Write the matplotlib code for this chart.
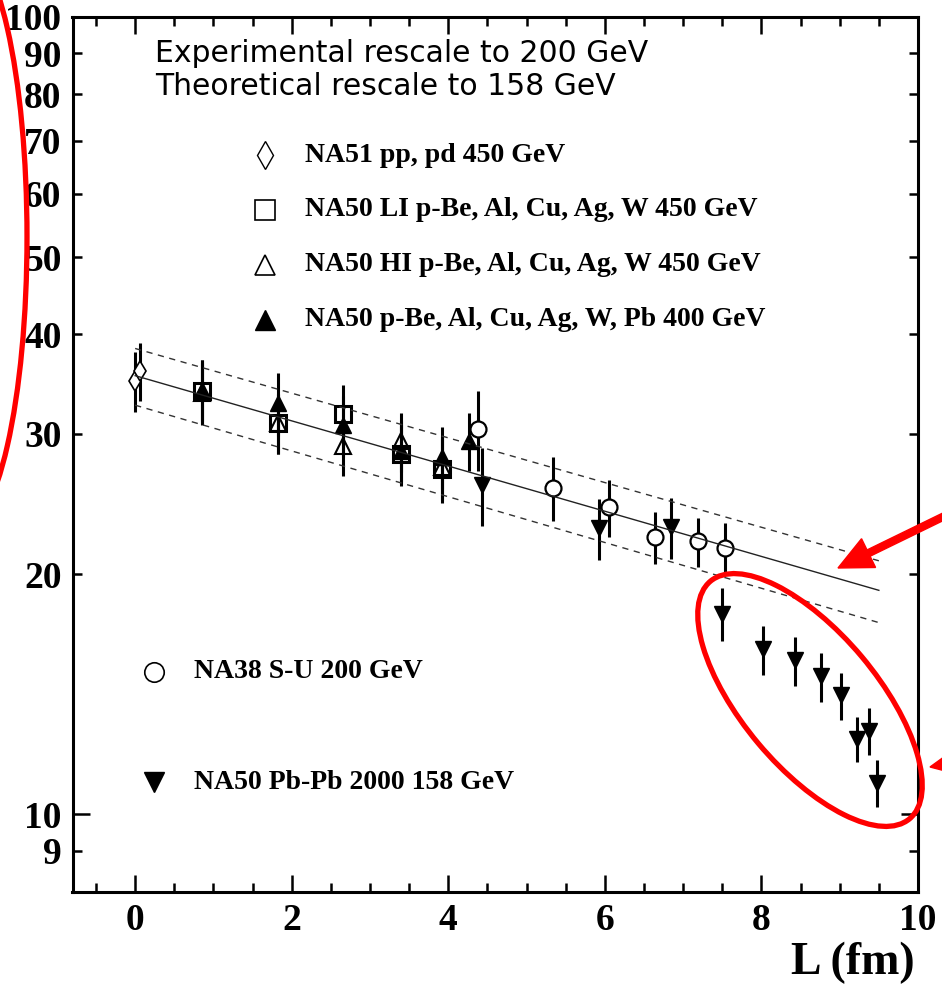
import numpy as np
import matplotlib.pyplot as plt
from matplotlib.ticker import FixedLocator, FixedFormatter, NullFormatter
from matplotlib.patches import Ellipse, FancyArrow

# NA51 pp, pd 450 GeV
na51_L = [0.0, 0.06]
na51_y = [35.0, 36.0]
na51_err = [3.0, 3.0]

# NA50 LI p-A 450 GeV
li_L = [0.85, 1.83, 2.65, 3.40, 3.92]
li_y = [34.0, 31.0, 31.75, 28.3, 27.1]
li_err = [3.1, 2.7, 2.8, 2.5, 2.5]

# NA50 HI p-A 450 GeV
hi_L = [0.85, 1.83, 2.65, 3.40, 3.92]
hi_y = [33.8, 31.0, 28.95, 29.4, 27.3]
hi_err = [3.0, 2.7, 2.4, 2.5, 2.5]

# NA50 p-A 400 GeV
p400_L = [0.85, 1.83, 2.65, 3.40, 3.92, 4.27]
p400_y = [34.1, 32.8, 30.8, 28.6, 28.1, 29.4]
p400_err = [3.0, 3.0, 2.7, 2.5, 2.5, 2.45]

# NA38 S-U 200 GeV
na38_L = [4.375, 5.34, 6.05, 6.645, 7.19, 7.53]
na38_y = [30.45, 25.7, 24.3, 22.27, 22.0, 21.6]
na38_err = [3.5, 2.35, 2.0, 1.65, 1.55, 1.6]

# NA50 Pb-Pb 2000 158 GeV
pbpb_L = [4.43, 5.93, 6.84, 7.50, 8.02, 8.43, 8.76, 9.02, 9.22, 9.38, 9.48]
pbpb_y = [25.9, 22.86, 22.9, 17.86, 16.1, 15.6, 14.9, 14.1, 12.43, 12.73, 10.96]
pbpb_err = [2.9, 2.0, 2.0, 1.35, 1.15, 1.1, 1.05, 0.95, 0.8, 0.87, 0.75]

# nuclear absorption curve and its error band (end points)
fit_L = [0.0, 9.5]
fit_y = [35.5, 19.1]
fit_hi = [38.4, 20.8]
fit_lo = [32.6, 17.4]

y_major = [10, 100]
y_minor = [9, 20, 30, 40, 50, 60, 70, 80, 90]
x_major = [0, 2, 4, 6, 8, 10]

serif = 'Liberation Serif'

fig = plt.figure(figsize=(9.42, 9.85), dpi=100)
ax = fig.add_axes([72.5 / 942, 93.3 / 985, 845.5 / 942, 874.7 / 985])

ax.set_yscale('log')
ax.set_xlim(-0.8, 10)
ax.set_ylim(8, 100)

# error bars first, markers on top
for L, y, e in [(na51_L, na51_y, na51_err), (li_L, li_y, li_err),
                (hi_L, hi_y, hi_err), (p400_L, p400_y, p400_err),
                (na38_L, na38_y, na38_err), (pbpb_L, pbpb_y, pbpb_err)]:
    ax.errorbar(L, y, yerr=e, fmt='none', ecolor='k', elinewidth=2.2,
                capsize=0, zorder=3)

ax.plot(na51_L, na51_y, 'd', ms=10, mfc='white', mec='k', mew=1.2, zorder=4)
ax.plot(li_L, li_y, 's', ms=11.5, mfc='none', mec='k', mew=2.2, zorder=4)
ax.plot(hi_L, hi_y, '^', ms=11, mfc='none', mec='k', mew=1.5, zorder=4)
ax.plot(p400_L, p400_y, '^', ms=11, mfc='k', mec='k', zorder=4)
ax.plot(na38_L, na38_y, 'o', ms=11.5, mfc='white', mec='k', mew=1.6, zorder=4)
ax.plot(pbpb_L, pbpb_y, 'v', ms=11, mfc='k', mec='k', zorder=4)

ax.plot(fit_L, fit_y, '-', color='#222222', lw=1.0, zorder=5)
ax.plot(fit_L, fit_hi, color='#333333', lw=1.0, dashes=(4.5, 4), zorder=5)
ax.plot(fit_L, fit_lo, color='#333333', lw=1.0, dashes=(4.5, 4), zorder=5)

# axes styling
for s in ax.spines.values():
    s.set_linewidth(2.2)
ax.yaxis.set_major_locator(FixedLocator(y_major))
ax.yaxis.set_minor_locator(FixedLocator(y_minor))
ax.yaxis.set_major_formatter(FixedFormatter([str(v) for v in y_major]))
ax.yaxis.set_minor_formatter(FixedFormatter([str(v) for v in y_minor]))
ax.xaxis.set_major_locator(FixedLocator(x_major))
ax.xaxis.set_minor_locator(FixedLocator(np.arange(-0.5, 10, 0.5)))
ax.xaxis.set_minor_formatter(NullFormatter())
ax.tick_params(which='both', direction='in', top=True, right=True, width=1.8,
               labelsize=27, pad=8)
ax.tick_params(which='major', length=12)
ax.tick_params(which='minor', length=6.5)
for lab in ax.get_xticklabels() + ax.get_yticklabels() + \
        ax.get_yticklabels(minor=True):
    lab.set_fontfamily(serif)
    lab.set_fontweight('bold')

fig.text(915 / 942, 1 - 963 / 985, 'L (fm)', ha='right', va='center',
         fontsize=33, fontweight='bold', family=serif)

# header
ax.text(0.0976, 0.9588, 'Experimental rescale to 200 GeV', transform=ax.transAxes,
        fontsize=21.5, family='DejaVu Sans', va='center')
ax.text(0.0976, 0.9206, 'Theoretical rescale to 158 GeV', transform=ax.transAxes,
        fontsize=21.5, family='DejaVu Sans', va='center')

# legend
legend_rows = [
    (0.2277, 0.842, 'd', dict(mfc='white', mew=1.0, ms=14), 'NA51 pp, pd 450 GeV'),
    (0.2277, 0.7794, 's', dict(mfc='white', mew=1.2, ms=14), 'NA50 LI p-Be, Al, Cu, Ag, W 450 GeV'),
    (0.2277, 0.7165, '^', dict(mfc='white', mew=1.2, ms=14), 'NA50 HI p-Be, Al, Cu, Ag, W 450 GeV'),
    (0.2277, 0.6537, '^', dict(mfc='k', mew=1.0, ms=14), 'NA50 p-Be, Al, Cu, Ag, W, Pb 400 GeV'),
    (0.0964, 0.2512, 'o', dict(mfc='white', mew=1.2, ms=14), 'NA38 S-U 200 GeV'),
    (0.0964, 0.1254, 'v', dict(mfc='k', mew=1.0, ms=14), 'NA50 Pb-Pb 2000 158 GeV'),
]
for mx, my, m, kw, label in legend_rows:
    ax.plot([mx], [my], m, mec='k', transform=ax.transAxes, clip_on=False, **kw)
    ax.text(mx + 0.0475, my, label, transform=ax.transAxes, fontsize=20,
            fontweight='bold', family=serif, va='center')

# red highlight marks drawn in pixel space over the whole figure
ov = fig.add_axes([0, 0, 1, 1], zorder=10)
ov.set_xlim(0, 942)
ov.set_ylim(985, 0)
ov.axis('off')
ov.patch.set_alpha(0)
red = '#ff0000'
ov.add_patch(Ellipse((-40, 237), 134, 590, fill=False, ec=red, lw=3.8,
                     clip_on=False))
ov.add_patch(Ellipse((810, 700), 310, 135, angle=50, fill=False, ec=red,
                     lw=3.8, clip_on=False))
ov.add_patch(FancyArrow(1000, 489, -162, 79, width=7, head_width=32,
                        head_length=34, length_includes_head=True,
                        color=red, clip_on=False))
ov.add_patch(FancyArrow(1010, 752, -80, 15, width=7, head_width=32,
                        head_length=34, length_includes_head=True,
                        color=red, clip_on=False))

fig.savefig('out.png', dpi=100)
